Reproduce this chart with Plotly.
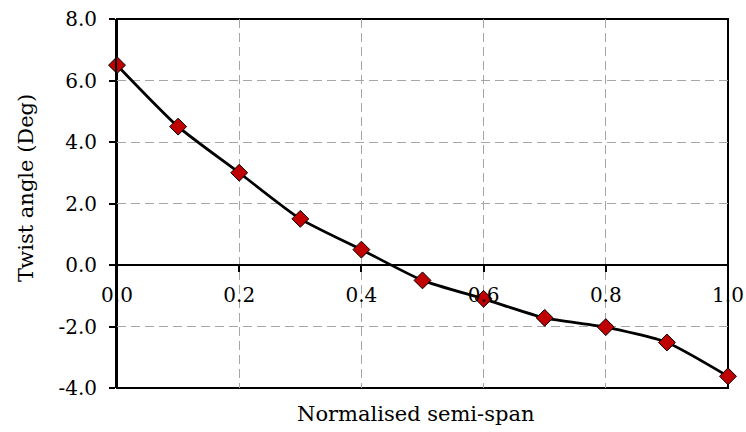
import plotly.graph_objects as go

span = [0.0, 0.1, 0.2, 0.3, 0.4, 0.5, 0.6, 0.7, 0.8, 0.9, 1.0]
twist = [6.5, 4.5, 3.0, 1.5, 0.5, -0.5, -1.1, -1.72, -2.02, -2.52, -3.62]

x_ticks = [0.0, 0.2, 0.4, 0.6, 0.8, 1.0]
x_labels = ["0.0", "0.2", "0.4", "0.6", "0.8", "1.0"]
y_ticks = [-4, -2, 0, 2, 4, 6, 8]
y_labels = ["-4.0", "-2.0", "0.0", "2.0", "4.0", "6.0", "8.0"]

FONT = "DejaVu Serif, serif"
tsize = 20
lsize = 21

fig = go.Figure()
fig.add_trace(go.Scatter(
    x=span, y=twist, mode="lines+markers",
    line=dict(color="black", width=2.8, shape="spline", smoothing=0.6),
    marker=dict(symbol="diamond", size=13, color="#C00000",
                line=dict(color="black", width=1)),
    showlegend=False, cliponaxis=False,
))

ymin, ymax = -4, 8
zero_pos = (0 - ymin) / (ymax - ymin)

fig.update_layout(
    width=746, height=432,
    margin=dict(l=117, r=18, t=19, b=44),
    paper_bgcolor="white", plot_bgcolor="white",
    font=dict(family=FONT, size=tsize, color="black"),
    xaxis=dict(
        range=[0, 1], tickvals=x_ticks, ticktext=x_labels, automargin=False,
        showgrid=True, gridcolor="#A6A6A6", gridwidth=1.3, griddash="9px,5px",
        zeroline=False, showline=True, linecolor="black", linewidth=2,
        anchor="free", position=zero_pos,
        ticks="outside", ticklen=6, tickwidth=1.5, tickcolor="black",
        ticklabelstandoff=6,
        tickfont=dict(family=FONT, size=tsize),
    ),
    xaxis2=dict(
        range=[0, 1], tickvals=x_ticks, overlaying="x", matches="x",
        anchor="free", position=zero_pos, automargin=False,
        showgrid=False, zeroline=False, showline=False,
        ticks="inside", ticklen=6, tickwidth=1.5, tickcolor="black",
        showticklabels=False,
    ),
    yaxis=dict(
        range=[ymin, ymax], tickvals=y_ticks, ticktext=y_labels, automargin=False,
        showgrid=True, gridcolor="#A6A6A6", gridwidth=1.3, griddash="9px,5px",
        zeroline=False, showline=True, linecolor="black", linewidth=2,
        ticks="outside", ticklen=6, tickwidth=1.5, tickcolor="black",
        ticklabelstandoff=8,
        tickfont=dict(family=FONT, size=tsize),
    ),
    shapes=[dict(type="rect", xref="x domain", yref="y domain",
                 x0=0, x1=1, y0=0, y1=1, line=dict(color="black", width=2),
                 layer="below")],
    annotations=[
        dict(text="Normalised semi-span", xref="paper", yref="paper",
             x=0.489, y=0, yshift=-26, xanchor="center", yanchor="middle",
             showarrow=False, font=dict(family=FONT, size=lsize)),
        dict(text="Twist angle (Deg)", xref="paper", yref="paper",
             x=0, xshift=-91, y=0.542, xanchor="center", yanchor="middle",
             textangle=-90, showarrow=False, font=dict(family=FONT, size=lsize)),
    ],
)

fig.write_html("out.html", config={"displayModeBar": False},
               post_script="document.body.style.margin='0';")
